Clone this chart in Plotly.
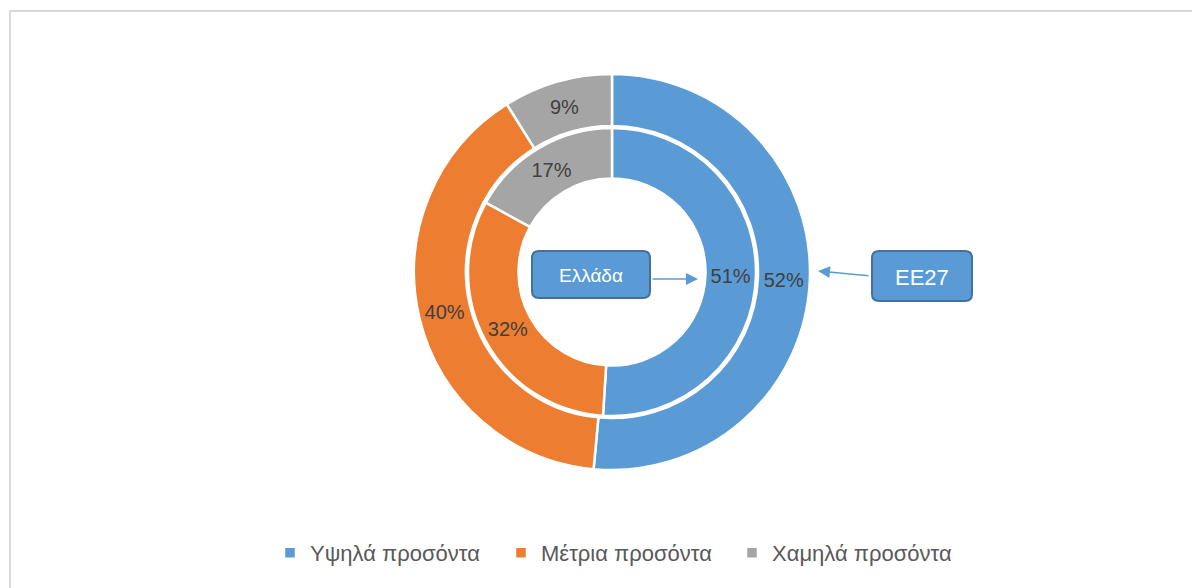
import plotly.graph_objects as go

# The page body has an 8px default margin, so the figure is drawn 8px in from the window edge.
OFF = 8
W, H = 1200 - OFF, 588 - OFF

categories = ["Υψηλά προσόντα", "Μέτρια προσόντα", "Χαμηλά προσόντα"]
ee27_values = [52, 40, 9]      # outer ring (EE27)
greece_values = [51, 32, 17]   # inner ring (Ελλάδα)
colors = ["#5B9BD5", "#ED7D31", "#A5A5A5"]

def px_x(x):
    return (x - OFF) / W

def px_y(y):
    return 1 - (y - OFF) / H

cx, cy = 612, 272
r_out, r_out_hole = 198, 146
r_in, r_in_hole = 144, 93.5

fig = go.Figure()

fig.add_trace(go.Pie(
    labels=categories, values=ee27_values,
    text=[f"{v}%" for v in ee27_values], textinfo="text",
    textposition="inside", insidetextorientation="horizontal",
    textfont=dict(size=20, color="#404040", family="Liberation Sans"),
    marker=dict(colors=colors, line=dict(color="white", width=2.5)),
    hole=r_out_hole / r_out, sort=False, direction="clockwise", rotation=0,
    domain=dict(x=[px_x(cx - r_out), px_x(cx + r_out)], y=[px_y(cy + r_out), px_y(cy - r_out)]),
    hoverinfo="label+percent", name="EE27",
))

fig.add_trace(go.Pie(
    labels=categories, values=greece_values,
    text=[f"{v}%" for v in greece_values], textinfo="text",
    textposition="inside", insidetextorientation="horizontal",
    textfont=dict(size=20, color="#404040", family="Liberation Sans"),
    marker=dict(colors=colors, line=dict(color="white", width=2.5)),
    hole=r_in_hole / r_in, sort=False, direction="clockwise", rotation=0,
    domain=dict(x=[px_x(cx - r_in), px_x(cx + r_in)], y=[px_y(cy + r_in), px_y(cy - r_in)]),
    hoverinfo="label+percent", name="Ελλάδα", showlegend=False,
))

def rounded_rect(x0, y0, x1, y1, r):
    def P(x, y):
        return f"{px_x(x)},{px_y(y)}"
    return (f"M {P(x0 + r, y0)} L {P(x1 - r, y0)} Q {P(x1, y0)} {P(x1, y0 + r)} "
            f"L {P(x1, y1 - r)} Q {P(x1, y1)} {P(x1 - r, y1)} "
            f"L {P(x0 + r, y1)} Q {P(x0, y1)} {P(x0, y1 - r)} "
            f"L {P(x0, y0 + r)} Q {P(x0, y0)} {P(x0 + r, y0)} Z")

shapes = [
    dict(type="rect", xref="paper", yref="paper",
         x0=px_x(10), x1=px_x(1199.5), y0=-0.2, y1=px_y(11),
         line=dict(color="#D9D9D9", width=2), fillcolor="rgba(0,0,0,0)", layer="below"),
    dict(type="path", xref="paper", yref="paper", path=rounded_rect(532, 251, 650, 298, 7),
         fillcolor="#5B9BD5", line=dict(color="#41719C", width=2)),
    dict(type="path", xref="paper", yref="paper", path=rounded_rect(872, 251, 972, 301, 7),
         fillcolor="#5B9BD5", line=dict(color="#41719C", width=2)),
]

annotations = [
    dict(x=px_x(591), y=px_y(275), xref="paper", yref="paper", text="Ελλάδα", showarrow=False,
         xanchor="center", yanchor="middle",
         font=dict(size=19, color="white", family="Liberation Sans")),
    dict(x=px_x(922), y=px_y(277), xref="paper", yref="paper", text="EE27", showarrow=False,
         xanchor="center", yanchor="middle",
         font=dict(size=22, color="white", family="Liberation Sans")),
    dict(x=px_x(698), y=px_y(279), xref="paper", yref="paper", ax=-47, ay=0,
         axref="pixel", ayref="pixel", text="", showarrow=True, arrowhead=2, arrowsize=1.6,
         arrowwidth=1.5, arrowcolor="#5B9BD5", standoff=0, startstandoff=0),
    dict(x=px_x(818), y=px_y(271), xref="paper", yref="paper", ax=52, ay=5,
         axref="pixel", ayref="pixel", text="", showarrow=True, arrowhead=2, arrowsize=1.6,
         arrowwidth=1.5, arrowcolor="#5B9BD5", standoff=0, startstandoff=0),
]

fig.update_layout(
    width=W, height=H,
    margin=dict(l=0, r=0, t=0, b=0),
    paper_bgcolor="white", plot_bgcolor="white",
    shapes=shapes, annotations=annotations,
    legend=dict(orientation="h", x=px_x(270), xanchor="left", y=px_y(553), yanchor="middle",
                font=dict(size=22, color="#595959", family="Liberation Sans"),
                itemclick=False, itemwidth=30, entrywidth=186, entrywidthmode="pixels",
                traceorder="normal"),
    font=dict(family="Liberation Sans"),
)

fig.write_html("out.html")
